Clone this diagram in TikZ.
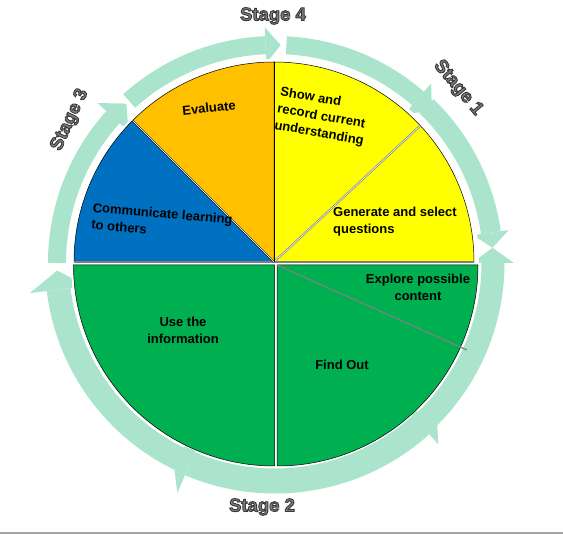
\documentclass[tikz,border=0pt]{standalone}
\usepackage{fontspec}
\setmainfont{Liberation Sans}
\usepackage{tikz}
\usetikzlibrary{calc}

\definecolor{ringgreen}{HTML}{AAE4CC}
\definecolor{pieorange}{HTML}{FFC000}
\definecolor{pieyellow}{HTML}{FFFF00}
\definecolor{pieblue}{HTML}{0070C0}
\definecolor{piegreen}{HTML}{00B050}

% band from #1 to #2, head tip at #3, band width #4, head half width #5
\newcommand{\ringarrow}[5]{%
  \draw[ring, line width=#4] ($(ctr)+(#1:218)$) arc[start angle=#1, end angle=#2, radius=218];
  \fill[ringhead] ($(ctr)+(#2:218-#5)$) -- ($(ctr)+(#3:218)$) -- ($(ctr)+(#2:218+#5)$) -- cycle;
}
% outlined grey lettering
\newcommand{\stagelbl}[1]{\textcolor{black!50}{\special{pdf:literal direct 0.22 0.22 0.22 RG 0.9 w 2 Tr}#1\special{pdf:literal direct 0 Tr}}}

\begin{document}
\begin{tikzpicture}[
  x=1pt, y=1pt,
  pietext/.style={font=\fontsize{13}{17}\selectfont\bfseries, inner sep=0pt},
  stagetext/.style={font=\fontsize{18.5}{20}\selectfont\bfseries, inner sep=0pt},
  sector/.style={draw=black, line width=0.5pt},
  ring/.style={draw=ringgreen},
  ringhead/.style={fill=ringgreen},
]
  \useasboundingbox (0,0) rectangle (563,535);
  \coordinate (ctr)  at (275,272);
  \coordinate (top)  at (274,273);
  \coordinate (botl) at (274.5,270);
  \coordinate (botr) at (277,270);

  % Ring arrows
  \ringarrow{180}{138}{133}{18}{21}
  \ringarrow{132}{92.5}{88.5}{18}{18}
  \ringarrow{87}{49}{44}{18}{20}
  \ringarrow{46}{8}{4}{20}{18}
  \ringarrow{-46}{0}{4}{23}{21}
  \ringarrow{-48}{-113}{-118}{25}{32}
  \fill[ringhead] ($(ctr)+(-48:198)$) -- ($(ctr)+(-43:221)$) -- ($(ctr)+(-48:244)$) -- cycle;
  \ringarrow{-116}{-173}{-178}{24}{29}

  % Pie
  \fill[white] (ctr) circle[radius=204];
  \filldraw[sector, fill=pieyellow] (top) -- ++(0:200) arc[start angle=0, end angle=90, radius=200] -- cycle;
  \filldraw[sector, fill=pieorange] (top) -- ++(90:200) arc[start angle=90, end angle=135, radius=200] -- cycle;
  \filldraw[sector, fill=pieblue] (top) -- ++(135:200) arc[start angle=135, end angle=180, radius=200] -- cycle;
  \filldraw[sector, fill=piegreen] (botl) -- ++(180:201) arc[start angle=180, end angle=270, radius=201] -- cycle;
  \filldraw[sector, fill=piegreen] (botr) -- ++(270:201) arc[start angle=270, end angle=360, radius=201] -- cycle;

  % Dividers
  \draw[gray, line width=1.8] ($(top)+(180:200)$) -- ($(top)+(0:200)$);
  \draw[gray, line width=2] (top) -- ++(43:200);
  \draw[white, line width=0.6] (top) -- ++(43:200);
  \draw[black, line width=1.6] (top) -- ++(135:200);
  \draw[white, line width=0.7] (top) -- ++(135:200);
  \draw[black, line width=0.8] (top) -- ++(90:200);
  \draw[gray, line width=1.2] (botr) -- ++(-24.1:208);

  % Texts
  \node[pietext, rotate=6] (evaluate) at (209,427) {Evaluate};
  \node[pietext, rotate=-10, align=left] (showrec) at (322,418) {Show and\\record current\\understanding};
  \node[pietext, anchor=west, align=left] (genq) at (333,313) {Generate and select\\questions};
  \node[pietext, rotate=-5, align=left] (commun) at (162,313) {Communicate learning\\to others};
  \node[pietext, align=center] (explore) at (418,248) {Explore possible\\content};
  \node[pietext, align=center] (usei) at (183,205) {Use the\\information};
  \node[pietext] (findout) at (342,170) {Find Out};

  % Stage labels
  \node[stagetext] (stage4) at (273,519) {\stagelbl{Stage 4}};
  \node[stagetext, rotate=-50] (stage1) at (458,447) {\stagelbl{Stage 1}};
  \node[stagetext, rotate=65] (stage3) at (70,415) {\stagelbl{Stage 3}};
  \node[stagetext] (stage2) at (262,28) {\stagelbl{Stage 2}};

  \draw[gray!70, line width=1.5] (0,2) -- (563,2);
\end{tikzpicture}
\end{document}
